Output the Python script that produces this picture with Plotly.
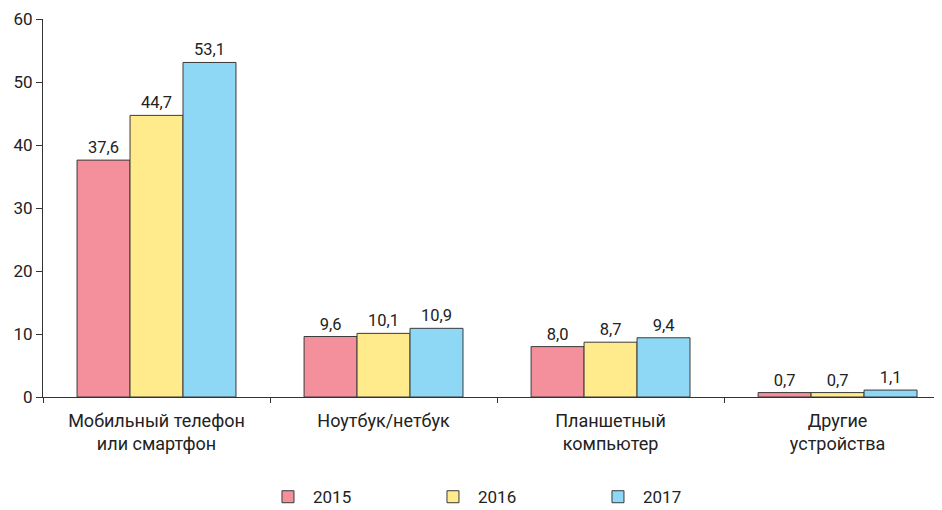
import plotly.graph_objects as go

categories = ["Мобильный телефон<br>или смартфон", "Ноутбук/нетбук",
              "Планшетный<br>компьютер", "Другие<br>устройства"]
years = ["2015", "2016", "2017"]
values_2015 = [37.6, 9.6, 8.0, 0.7]
values_2016 = [44.7, 10.1, 8.7, 0.7]
values_2017 = [53.1, 10.9, 9.4, 1.1]
colors = ["#F4909B", "#FFEA8C", "#8ED8F5"]

num_font = "Liberation Sans Narrow, Arial Narrow, Roboto, sans-serif"

fig = go.Figure()
for name, vals, col in zip(years, [values_2015, values_2016, values_2017], colors):
    fig.add_trace(go.Bar(
        x=categories, y=vals, name=name,
        marker=dict(color=col, line=dict(color="#3a3a3a", width=1)),
        text=vals, texttemplate="%{y:.1f}", textposition="outside",
        textfont=dict(family=num_font, size=16.5, color="#222"),
        cliponaxis=False,
    ))

# page body has an 8px margin, so the figure is offset for that
fig.update_layout(
    width=934, height=510,
    barmode="group", bargap=0.3, bargroupgap=0,
    separators=", ",
    plot_bgcolor="white", paper_bgcolor="white",
    margin=dict(l=35, r=0, t=11, b=121),
    font=dict(family="Roboto, Open Sans, sans-serif", color="#222"),
    legend=dict(orientation="h", x=0.52, xanchor="center", y=-0.265, yanchor="middle",
                font=dict(size=17), entrywidth=110, traceorder="normal",
                itemwidth=40),
    showlegend=True,
)
fig.update_xaxes(
    range=[-0.5, 3.46], showline=True, linecolor="#333", linewidth=1,
    ticks="outside", tickson="boundaries", ticklen=5, tickcolor="#333",
    tickfont=dict(size=18), ticklabelstandoff=7, showgrid=False, automargin=False,
)
fig.update_yaxes(
    range=[0, 60], dtick=10, showline=True, linecolor="#333", linewidth=1,
    ticks="outside", ticklen=6, tickcolor="#333", showgrid=False, zeroline=False,
    tickfont=dict(family=num_font, size=17), automargin=False,
)

fig.write_html("out.html")
